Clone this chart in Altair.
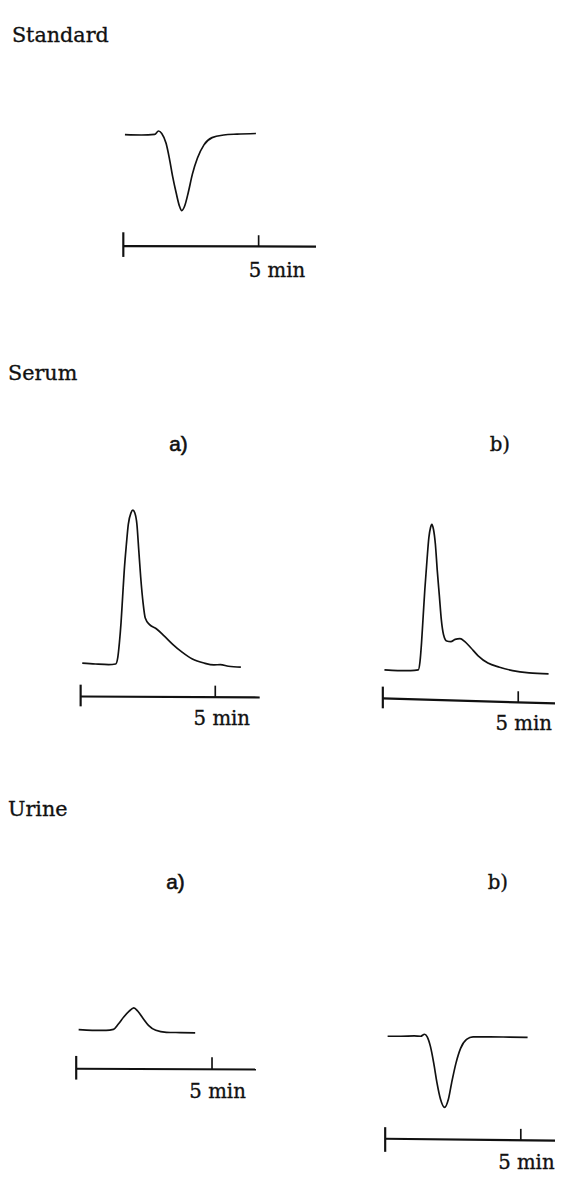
import altair as alt
import pandas as pd

INK = "#111111"
SERIF = "DejaVu Serif"
SANS = "Liberation Sans"

# ---------------- data: retention time (min) and relative detector response ----------------
STD_T = [0.06, 0.67, 1.16, 1.30, 1.42, 1.58, 1.70, 1.82, 1.95, 2.07, 2.16, 2.27, 2.40, 2.55, 2.74, 2.98, 3.28, 3.71, 4.20, 4.90]
STD_S = [0.0, -0.2, 0.2, 2.4, 0.8, -5.6, -15.2, -26.9, -37.6, -46.2, -49.4, -46.2, -37.6, -25.8, -15.2, -6.6, -1.9, -0.2, 0.4, 0.8]

SERUM_A_T = [0.06, 0.55, 1.04, 1.30, 1.38, 1.44, 1.50, 1.56, 1.62, 1.70, 1.77, 1.87, 1.94, 2.01, 2.09, 2.16, 2.23, 2.32,
             2.40, 2.56, 2.81, 3.11, 3.42, 3.78, 4.15, 4.58, 4.95, 5.19, 5.49, 5.95]
SERUM_A_S = [0.6, 0.0, -0.4, 0.0, 4.3, 13.9, 26.7, 43.8, 60.9, 78.0, 90.8, 98.3, 100.0, 98.3, 90.8, 73.7, 56.6, 39.6,
             29.9, 25.6, 22.9, 18.1, 12.8, 7.5, 3.2, 0.6, -0.6, -0.4, -1.5, -2.1]

SERUM_B_T = [0.06, 0.55, 1.03, 1.31, 1.37, 1.43, 1.49, 1.55, 1.63, 1.70, 1.76, 1.81, 1.87, 1.94, 2.01, 2.09, 2.16, 2.24,
             2.36, 2.51, 2.67, 2.85, 3.03, 3.24, 3.52, 3.88, 4.31, 4.79, 5.40, 6.12]
SERUM_B_S = [0.4, 0.0, 0.0, 0.4, 5.4, 18.2, 35.3, 52.4, 71.6, 86.5, 92.9, 95.1, 91.9, 82.3, 65.2, 48.1, 33.1, 23.5,
             19.2, 18.8, 20.3, 20.8, 18.8, 15.0, 9.6, 4.9, 2.2, 0.0, -1.5, -2.1]

URINE_A_T = [0.09, 0.59, 1.10, 1.37, 1.56, 1.75, 1.95, 2.12, 2.27, 2.47, 2.66, 2.93, 3.32, 3.83, 4.38]
URINE_A_S = [0.4, 0.0, 0.0, 0.6, 4.3, 8.6, 12.4, 14.6, 12.4, 7.5, 3.2, 0.0, -1.3, -1.5, -1.7]

URINE_B_T = [0.09, 0.58, 1.07, 1.31, 1.45, 1.55, 1.67, 1.79, 1.91, 2.04, 2.19, 2.33, 2.45, 2.61, 2.78, 3.00, 3.24, 3.85, 4.58, 5.25]
URINE_B_S = [0.0, 0.0, 0.2, 0.0, 1.3, -0.4, -6.8, -17.5, -30.3, -41.0, -46.3, -41.0, -30.3, -17.5, -7.9, -2.1, -0.4, -0.4, -0.6, -0.8]

HEADINGS = ["Standard", "Serum", "Urine"]
SUB_LABELS = ["a)", "b)"]
TICK_MIN = [0, 5]              # scale-bar marks (min)
TICK_LABEL = "5 min"
BAR_END_MIN = [7.12, 6.65, 6.70, 6.62, 6.70]

# ---------------- layout (chart pixels) ----------------
PX_PER_UNIT = 1.56
PANELS = [
    dict(t=STD_T, s=STD_S, t0=117.0, t5=254.3, base=120.0, bar=233.0, bar2=233.5, tick_top=222.0, tick_bot=233.0,
         lbar=(219.0, 244.0), text_dx=-10, text_y=264.0),
    dict(t=SERUM_A_T, s=SERUM_A_S, t0=73.7, t5=210.3, base=657.0, bar=690.0, bar2=691.0, tick_top=679.0, tick_bot=690.5,
         lbar=(678.0, 700.0), text_dx=-22, text_y=719.0),
    dict(t=SERUM_B_T, s=SERUM_B_S, t0=380.3, t5=517.7, base=663.7, bar=692.0, bar2=697.3, tick_top=684.7, tick_bot=696.0,
         lbar=(680.0, 702.0), text_dx=-23, text_y=724.0),
    dict(t=URINE_A_T, s=URINE_A_S, t0=69.2, t5=207.0, base=1028.7, bar=1067.7, bar2=1068.5, tick_top=1056.0, tick_bot=1068.0,
         lbar=(1054.7, 1078.7), text_dx=-23, text_y=1097.0),
    dict(t=URINE_B_T, s=URINE_B_S, t0=382.7, t5=520.3, base=1034.7, bar=1138.7, bar2=1140.8, tick_top=1128.7, tick_bot=1140.3,
         lbar=(1127.0, 1152.0), text_dx=-23, text_y=1169.0),
]


def one_row():
    return pd.DataFrame({"k": [0]})


def panel(p, bar_end):
    df = pd.DataFrame({"t": p["t"], "s": p["s"]})
    xs = alt.Scale(domain=[TICK_MIN[0], TICK_MIN[1]], range=[p["t0"], p["t5"]], nice=False, zero=False)
    ys = alt.Scale(domain=[0, 100], range=[p["base"], p["base"] - 100 * PX_PER_UNIT], nice=False, zero=False)

    trace = alt.Chart(df).mark_line(interpolate="monotone", color=INK, strokeWidth=1.7).encode(
        x=alt.X("t:Q", scale=xs, axis=None),
        y=alt.Y("s:Q", scale=ys, axis=None),
    )
    bar = alt.Chart(one_row()).mark_rule(color=INK, strokeWidth=2.2).encode(
        x=alt.XDatum(TICK_MIN[0], type="quantitative", scale=xs, axis=None),
        x2=alt.X2Datum(bar_end),
        y=alt.value(p["bar"]),
        y2=alt.value(p["bar2"]),
    )
    start_bar = alt.Chart(one_row()).mark_rule(color=INK, strokeWidth=2.2).encode(
        x=alt.XDatum(TICK_MIN[0], type="quantitative", scale=xs, axis=None),
        y=alt.value(p["lbar"][0]),
        y2=alt.value(p["lbar"][1]),
    )
    tick = alt.Chart(one_row()).mark_rule(color=INK, strokeWidth=1.7).encode(
        x=alt.XDatum(TICK_MIN[1], type="quantitative", scale=xs, axis=None),
        y=alt.value(p["tick_top"]),
        y2=alt.value(p["tick_bot"]),
    )
    label = alt.Chart(pd.DataFrame({"label": [TICK_LABEL]})).mark_text(
        align="left", baseline="alphabetic", font=SERIF, fontSize=20, color=INK,
        stroke=INK, strokeWidth=0.35, dx=p["text_dx"]
    ).encode(
        x=alt.XDatum(TICK_MIN[1], type="quantitative", scale=xs, axis=None),
        y=alt.value(p["text_y"]),
        text="label:N",
    )
    return alt.layer(trace, bar, start_bar, tick, label)


def text_label(text, x, y, font, size, align="left", sw=0.35):
    return alt.Chart(pd.DataFrame({"label": [text]})).mark_text(
        align=align, baseline="alphabetic", font=font, fontSize=size, color=INK,
        stroke=INK, strokeWidth=sw
    ).encode(x=alt.value(x), y=alt.value(y), text="label:N")


layers = [panel(p, be) for p, be in zip(PANELS, BAR_END_MIN)]
layers += [
    text_label(HEADINGS[0], 4, 26, SERIF, 21),
    text_label(HEADINGS[1], 0, 369, SERIF, 21),
    text_label(HEADINGS[2], 0, 811, SERIF, 21),
    text_label(SUB_LABELS[0], 173, 441, SANS, 21, "center", 0.6),
    text_label(SUB_LABELS[1], 499, 441, SERIF, 20, "center"),
    text_label(SUB_LABELS[0], 170, 885, SANS, 21, "center", 0.6),
    text_label(SUB_LABELS[1], 497, 885, SERIF, 20, "center"),
]

chart = (
    alt.layer(*layers)
    .resolve_scale(x="independent", y="independent")
    .properties(width=555, height=1170, padding=0, autosize=alt.AutoSizeParams(type="none"))
    .configure_view(stroke=None)
)

chart.save("out.html", embed_options={"renderer": "svg", "actions": False})
